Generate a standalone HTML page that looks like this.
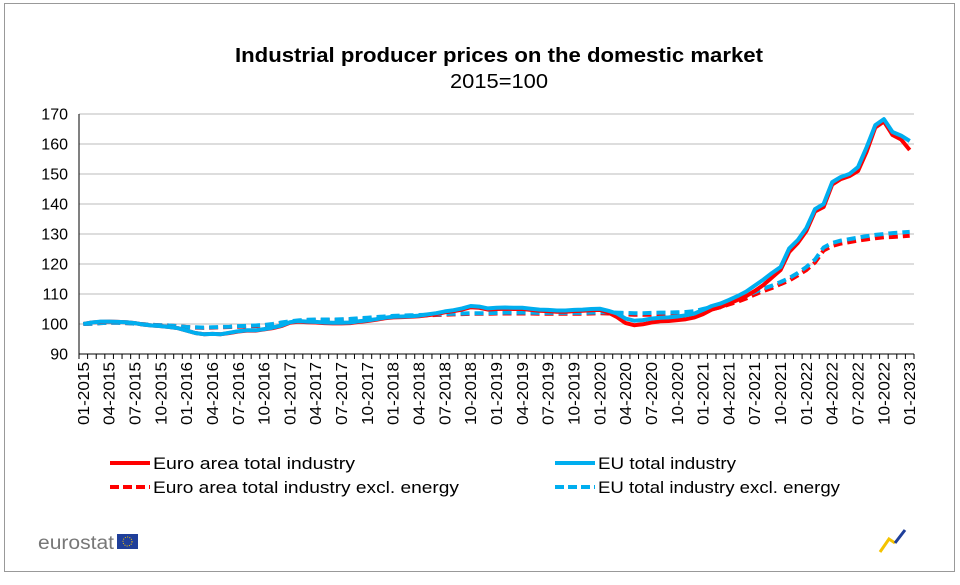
<!DOCTYPE html>
<html><head><meta charset="utf-8"><style>
body{margin:0;background:#fff;width:960px;height:580px;overflow:hidden;font-family:"Liberation Sans",Arial,sans-serif}
</style></head><body>
<svg id="chart" width="960" height="580" xmlns="http://www.w3.org/2000/svg">
<rect x="4.5" y="3.5" width="950" height="568" fill="#fff" stroke="#999"/>
<text x="235" y="62" font-size="20" font-weight="bold" textLength="528" lengthAdjust="spacingAndGlyphs">Industrial producer prices on the domestic market</text>
<text x="450" y="88" font-size="20" textLength="98" lengthAdjust="spacingAndGlyphs">2015=100</text>
<g id="grid"></g><g id="axes"></g><g id="series"></g>
<g id="legend" font-size="17">
<line x1="110" y1="463" x2="150" y2="463" stroke="#f00" stroke-width="4"/>
<text x="153" y="469" textLength="202" lengthAdjust="spacingAndGlyphs">Euro area total industry</text>
<line x1="555" y1="463" x2="595" y2="463" stroke="#00aeef" stroke-width="4"/>
<text x="598" y="469" textLength="138" lengthAdjust="spacingAndGlyphs">EU total industry</text>
<line x1="110" y1="487" x2="150" y2="487" stroke="#f00" stroke-width="4" stroke-dasharray="9,4"/>
<text x="153" y="493" textLength="306" lengthAdjust="spacingAndGlyphs">Euro area total industry excl. energy</text>
<line x1="555" y1="487" x2="595" y2="487" stroke="#00aeef" stroke-width="4" stroke-dasharray="9,4"/>
<text x="598" y="493" textLength="242" lengthAdjust="spacingAndGlyphs">EU total industry excl. energy</text>
</g>
<g>
<text x="38" y="549" font-size="19" fill="#777" textLength="76" lengthAdjust="spacingAndGlyphs">eurostat</text>
<rect x="117" y="534" width="21" height="15" fill="#1f3f9a"/>
<circle cx="127.5" cy="541.5" r="4.5" fill="none" stroke="#ffcc00" stroke-width="1" stroke-dasharray="1,1.3"/>
</g>
<g>
<path d="M880 552 L889 539 L895 543" stroke="#f4c300" stroke-width="3" fill="none"/>
<path d="M895 543 L905 530" stroke="#1f3f9a" stroke-width="3" fill="none"/>
</g>
</svg>
<script>
const months = [];
for (let y=2015;y<=2023;y++) for (let m=1;m<=12;m++){ if(y===2023&&m>1)break; months.push(String(m).padStart(2,'0')+'-'+y); }
const yTicks = [90,100,110,120,130,140,150,160,170];
const euroTotal = [
100,100.5,100.7,100.8,100.7,100.6,100.3,99.8,99.5,99.3,99,98.6,
97.8,97,96.6,96.7,96.6,97,97.5,97.8,97.8,98.2,98.6,99.3,
100.4,100.8,100.6,100.5,100.3,100.2,100.2,100.3,100.7,101,101.4,101.9,
102.2,102.3,102.4,102.6,102.9,103.3,103.9,104.3,104.8,105.6,105.4,104.8,
105,105.1,105,105,104.7,104.4,104.3,104.1,104.1,104.3,104.4,104.6,
104.7,103.8,102.3,100.3,99.6,99.9,100.5,100.9,101,101.3,101.6,102.2,
103.3,104.8,105.6,106.8,108,109.3,111,113,115.5,118,124,127,
131,137.5,139,146.5,148.3,149.3,151,157.5,165.5,167.5,163,161.5,
158];
const euTotal = [
100,100.5,100.8,100.8,100.7,100.6,100.3,99.8,99.5,99.3,99,98.6,
97.8,97,96.6,96.7,96.6,97.1,97.6,97.9,97.9,98.3,98.8,99.5,
100.6,101,100.8,100.7,100.5,100.4,100.4,100.5,100.9,101.2,101.6,102.1,
102.4,102.5,102.6,102.8,103.2,103.6,104.2,104.6,105.2,106,105.8,105.2,
105.4,105.5,105.4,105.4,105.1,104.8,104.7,104.5,104.5,104.7,104.8,105,
105.1,104.4,103.5,101.8,101.1,101.3,101.8,102.1,102.2,102.5,102.9,103.5,
104.7,106,106.8,108,109.3,110.8,112.8,114.8,117,119,125.2,128,
132,138.3,140,147.3,149,150,152.3,159,166.3,168.3,164,162.8,
161];
const euroExcl = [
100,100.1,100.3,100.4,100.4,100.3,100.1,99.9,99.7,99.6,99.5,99.3,
99,98.8,98.7,98.8,98.9,99,99.1,99.2,99.3,99.5,99.8,100.3,
100.7,101,101.2,101.3,101.3,101.3,101.4,101.5,101.7,101.9,102.1,102.3,
102.5,102.6,102.7,102.8,102.9,103,103.1,103.2,103.3,103.4,103.4,103.4,
103.5,103.5,103.5,103.5,103.5,103.4,103.4,103.4,103.4,103.4,103.4,103.5,
103.6,103.5,103.4,103.2,103.1,103.1,103.1,103.2,103.2,103.3,103.4,103.6,
104.2,104.9,105.6,106.5,107.4,108.5,109.8,111,112,113.3,114.5,116.2,
118,120.5,124.5,126,126.8,127.3,127.8,128.2,128.6,128.9,129,129.2,
129.4];
const euExcl = [
100,100.1,100.3,100.4,100.4,100.3,100.1,99.9,99.7,99.6,99.5,99.3,
99,98.9,98.8,98.9,99,99.1,99.3,99.4,99.5,99.7,100,100.5,
100.9,101.2,101.4,101.5,101.5,101.5,101.6,101.7,101.9,102.1,102.3,102.5,
102.7,102.8,102.9,103,103.1,103.2,103.3,103.4,103.5,103.6,103.6,103.6,
103.7,103.8,103.8,103.8,103.8,103.7,103.7,103.7,103.7,103.7,103.7,103.8,
103.9,103.9,103.8,103.7,103.6,103.6,103.7,103.8,103.8,103.9,104,104.3,
105,105.7,106.4,107.3,108.2,109.3,110.6,111.8,112.8,114,115.3,117,
119,121.5,125.5,127,127.8,128.3,128.8,129.3,129.7,130,130.3,130.5,
130.7];
const X0=79, X1=914, Y0=354, Y1=114, N=months.length;
const bw=(X1-X0)/N;
const xs=i=>X0+(i+0.5)*bw;
const ys=v=>Y0-(v-90)/(170-90)*(Y0-Y1);
const NS='http://www.w3.org/2000/svg';
function mk(tag,attrs,parent){const e=document.createElementNS(NS,tag);for(const k in attrs)e.setAttribute(k,attrs[k]);parent.appendChild(e);return e;}
const grid=document.getElementById('grid'),axes=document.getElementById('axes'),ser=document.getElementById('series');
yTicks.forEach(t=>{
  if(t>90){const g=mk('line',{x1:X0,x2:X1,y1:ys(t),y2:ys(t),stroke:'#bbb','stroke-width':1},grid);
  
  }
  const l=mk('text',{x:X0-11,y:ys(t)+5.5,'text-anchor':'end','font-size':16},axes);
  l.textContent=t;
  
  
});
const ya=mk('line',{x1:X0,x2:X0,y1:Y1,y2:Y0,stroke:'#000'},axes);


const xa=mk('line',{x1:X0,x2:X1,y1:Y0,y2:Y0,stroke:'#000'},axes);


for(let i=0;i<=N;i++){mk('line',{x1:X0+i*bw,x2:X0+i*bw,y1:Y0,y2:Y0+5,stroke:'#000'},axes);}
months.forEach((m,i)=>{
  if(i%3!==0)return;
  const x=xs(i)+5.5,y=Y0+8;
  const t=mk('text',{x:x,y:y,'text-anchor':'end','font-size':16,textLength:63,lengthAdjust:'spacingAndGlyphs',transform:`rotate(-90 ${x} ${y})`},axes);
  t.textContent=m;
  
  
});
function line(data,color,dash,name){
  const d=data.map((v,i)=>(i?'L':'M')+xs(i).toFixed(1)+' '+ys(v).toFixed(1)).join(' ');
  const p=mk('path',{d:d,fill:'none',stroke:color,'stroke-width':4,'stroke-linejoin':'round'},ser);
  if(dash)p.setAttribute('stroke-dasharray','9,5');
  
  
}
line(euroExcl,'#f00',true,'series-euro-area-excl-energy');
line(euExcl,'#00aeef',true,'series-eu-excl-energy');
line(euroTotal,'#f00',false,'series-euro-area-total');
line(euTotal,'#00aeef',false,'series-eu-total');
</script>
</body></html>
